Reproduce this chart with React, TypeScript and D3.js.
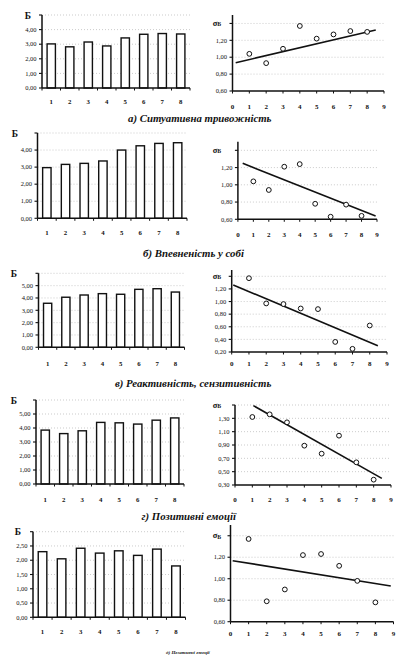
import React from 'react';
import * as d3 from 'd3';

// categories on the bar charts and x values of the scatter plots
const categories = ['1', '2', '3', '4', '5', '6', '7', '8'];
const groupX = [1, 2, 3, 4, 5, 6, 7, 8];
const scatterTicks = [0, 1, 2, 3, 4, 5, 6, 7, 8, 9];

// mean scores (Б)
const barsA = [3.02, 2.82, 3.15, 2.88, 3.43, 3.68, 3.73, 3.7];
const barsB = [2.97, 3.16, 3.22, 3.36, 4.0, 4.25, 4.39, 4.43];
const barsC = [3.57, 4.06, 4.24, 4.35, 4.3, 4.7, 4.75, 4.48];
const barsD = [3.85, 3.6, 3.8, 4.4, 4.37, 4.28, 4.56, 4.72];
const barsE = [2.3, 2.05, 2.42, 2.25, 2.33, 2.17, 2.39, 1.8];

// standard deviations (σБ)
const sigmaA = [1.04, 0.93, 1.1, 1.37, 1.22, 1.27, 1.31, 1.3];
const sigmaB = [1.04, 0.94, 1.21, 1.24, 0.78, 0.63, 0.77, 0.64];
const sigmaC = [1.37, 0.97, 0.96, 0.89, 0.88, 0.36, 0.25, 0.62];
const sigmaD = [1.32, 1.36, 1.24, 0.89, 0.77, 1.04, 0.64, 0.38];
const sigmaE = [1.37, 0.79, 0.9, 1.22, 1.23, 1.12, 0.98, 0.78];

// trend lines: [x, y] of start and end
const trendA = [[0.19, 0.935], [8.51, 1.322]];
const trendB = [[0.31, 1.249], [8.91, 0.638]];
const trendC = [[0.09, 1.262], [8.47, 0.3]];
const trendD = [[1.06, 1.49], [8.47, 0.4]];
const trendE = [[0.12, 1.168], [8.85, 0.932]];

const captions = [
  'а) Ситуативна тривожність',
  'б) Впевненість у собі',
  'в) Реактивність, сензитивність',
  'г) Позитивні емоції',
  'д) Негативні емоції',
];

// layout of each row (pixels)
const barRows = [
  { values: barsA, x0: 42, x1: 190, top: 15, base: 88, max: 5, step: 1, labelY: 104, bx: 28 },
  { values: barsB, x0: 37.5, x1: 187, top: 133, base: 218.3, max: 5, step: 1, labelY: 235, bx: 15 },
  { values: barsC, x0: 38.5, x1: 184.5, top: 273.3, base: 347.3, max: 6, step: 1, labelY: 365.5, bx: 14 },
  { values: barsD, x0: 36, x1: 184, top: 400, base: 484, max: 6, step: 1, labelY: 502, bx: 14 },
  { values: barsE, x0: 33, x1: 185.5, top: 531.7, base: 617.3, max: 3, step: 0.5, labelY: 634, bx: 18 },
];

const scatterRows = [
  { values: sigmaA, trend: trendA, x0: 232.5, x9: 384, top: 15, base: 91, min: 0.6, max: 1.5, sigmaTop: 1.4, labelY: 109 },
  { values: sigmaB, trend: trendB, x0: 237.9, x9: 377, top: 141.7, base: 219.3, min: 0.6, max: 1.5, sigmaTop: 1.4, labelY: 237 },
  { values: sigmaC, trend: trendC, x0: 231.7, x9: 387, top: 270, base: 352, min: 0.2, max: 1.5, sigmaTop: 1.4, labelY: 365.5 },
  { values: sigmaD, trend: trendD, x0: 235, x9: 391, top: 405, base: 485, min: 0.3, max: 1.5, sigmaTop: 1.5, labelY: 502 },
  { values: sigmaE, trend: trendE, x0: 230.5, x9: 393.5, top: 525, base: 621.7, min: 0.6, max: 1.5, sigmaTop: 1.4, labelY: 635.5 },
];

const captionPos = [
  { x: 128, y: 121.5, size: 10.8 },
  { x: 143, y: 256.5, size: 10.8 },
  { x: 115, y: 386.5, size: 10.8 },
  { x: 141.5, y: 520, size: 10.8 },
  { x: 166, y: 653.5, size: 5 },
];

const fmt = (v: number) => d3.format('.2f')(v).replace('.', ',');
const FONT = '"Liberation Serif", "DejaVu Serif", serif';
const INK = '#111';

const BarChart = ({ row }: { row: typeof barRows[number] }) => {
  const x = d3.scaleBand<string>().domain(categories).range([row.x0, row.x1]).paddingInner(0.55).paddingOuter(0.275);
  const y = d3.scaleLinear().domain([0, row.max]).range([row.base, row.top]);
  const ticks = d3.range(0, row.max + 1e-6, row.step);
  const stepPx = x.step();
  return (
    <g>
      {ticks.slice(1).map((t) => (
        <line key={'g' + t} x1={row.x0} x2={row.x1} y1={y(t)} y2={y(t)} stroke="#aaa" strokeWidth={0.6} strokeDasharray="1,2" />
      ))}
      {row.values.map((v, i) => (
        <rect key={i} x={x(categories[i])} y={y(v)} width={x.bandwidth()} height={y(0) - y(v)} fill="#fff" stroke={INK} strokeWidth={1.4} />
      ))}
      <line x1={row.x0} x2={row.x0} y1={row.top} y2={row.base} stroke={INK} strokeWidth={1.5} />
      <line x1={row.x0} x2={row.x1} y1={row.base} y2={row.base} stroke={INK} strokeWidth={1.5} />
      {ticks.map((t) => (
        <line key={'t' + t} x1={row.x0 - 3} x2={row.x0} y1={y(t)} y2={y(t)} stroke={INK} strokeWidth={1.1} />
      ))}
      {d3.range(0, categories.length + 1).map((i) => (
        <line key={'xt' + i} x1={row.x0 + i * stepPx} x2={row.x0 + i * stepPx} y1={row.base} y2={row.base + 2.5} stroke={INK} strokeWidth={1} />
      ))}
      {ticks.slice(0, -1).map((t) => (
        <text key={'l' + t} x={row.x0 - 5.5} y={y(t) + 2.2} textAnchor="end" fontSize={6.5} fontFamily={FONT} fill={INK}>
          {fmt(t)}
        </text>
      ))}
      <text x={row.bx} y={row.top + 3.5} textAnchor="middle" fontSize={9.5} fontWeight="bold" fontFamily={FONT} fill={INK}>
        Б
      </text>
      {categories.map((c) => (
        <text key={'c' + c} x={(x(c) || 0) + x.bandwidth() / 2} y={row.labelY} textAnchor="middle" fontSize={6.8} fontWeight="bold" fontFamily={FONT} fill={INK}>
          {c}
        </text>
      ))}
    </g>
  );
};

const ScatterChart = ({ row }: { row: typeof scatterRows[number] }) => {
  const x = d3.scaleLinear().domain([0, 9]).range([row.x0, row.x9]);
  const y = d3.scaleLinear().domain([row.min, row.max]).range([row.base, row.top]);
  const ticks = d3.range(row.min, row.sigmaTop + 1e-6, 0.2);
  const line = d3.line<number[]>().x((d) => x(d[0])).y((d) => y(d[1]));
  return (
    <g>
      {ticks.slice(1).map((t) => (
        <line key={'g' + t} x1={x(0)} x2={x(9)} y1={y(t)} y2={y(t)} stroke="#aaa" strokeWidth={0.6} strokeDasharray="1,2" />
      ))}
      <line x1={x(0)} x2={x(0)} y1={row.top} y2={row.base} stroke={INK} strokeWidth={1.5} />
      <line x1={x(0)} x2={x(9)} y1={row.base} y2={row.base} stroke={INK} strokeWidth={1.5} />
      {ticks.map((t) => (
        <line key={'t' + t} x1={x(0) - 3} x2={x(0)} y1={y(t)} y2={y(t)} stroke={INK} strokeWidth={1.1} />
      ))}
      {scatterTicks.map((t) => (
        <line key={'xt' + t} x1={x(t)} x2={x(t)} y1={row.base} y2={row.base + 2.5} stroke={INK} strokeWidth={1} />
      ))}
      {ticks.slice(0, -1).map((t) => (
        <text key={'l' + t} x={x(0) - 5.5} y={y(t) + 2.2} textAnchor="end" fontSize={6.5} fontFamily={FONT} fill={INK}>
          {fmt(t)}
        </text>
      ))}
      <text x={217} y={y(row.sigmaTop) + 2.5} textAnchor="middle" fontSize={8.5} fontWeight="bold" fontFamily={FONT} fill={INK}>
        σ<tspan fontSize={6} dy={0.5}>Б</tspan>
      </text>
      {scatterTicks.map((t) => (
        <text key={'xl' + t} x={x(t)} y={row.labelY} textAnchor="middle" fontSize={7} fontWeight="bold" fontFamily={FONT} fill={INK}>
          {t}
        </text>
      ))}
      <path d={line(row.trend) || ''} fill="none" stroke={INK} strokeWidth={1.6} />
      {row.values.map((v, i) => (
        <circle key={i} cx={x(groupX[i])} cy={y(v)} r={2.4} fill="#fff" stroke={INK} strokeWidth={1} />
      ))}
    </g>
  );
};

const App: React.FC = () => {
  return (
    <div style={{ position: 'absolute', left: 0, top: 0 }}>
      <svg width={398} height={666} style={{ display: 'block', background: '#fff' }}>
        {barRows.map((r, i) => (
          <BarChart key={'b' + i} row={r} />
        ))}
        {scatterRows.map((r, i) => (
          <ScatterChart key={'s' + i} row={r} />
        ))}
        {captions.map((c, i) => (
          <text key={'cap' + i} x={captionPos[i].x} y={captionPos[i].y} fontSize={captionPos[i].size} fontWeight="bold" fontStyle="italic" fontFamily={FONT} fill={INK}>
            {c}
          </text>
        ))}
      </svg>
    </div>
  );
};

export default App;
